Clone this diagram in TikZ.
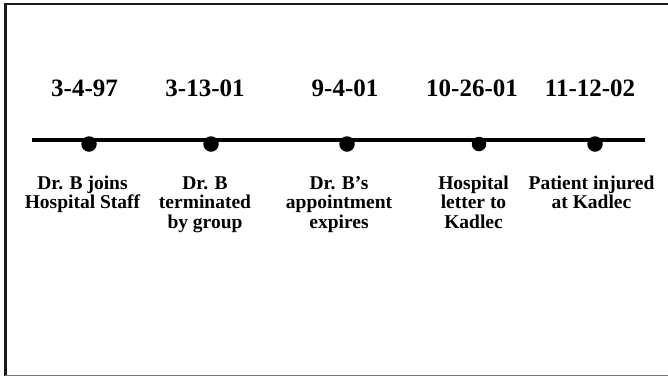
\documentclass[tikz,border=0pt]{standalone}
\usepackage{fontspec}
\setmainfont{Liberation Serif}
\begin{document}
\begin{tikzpicture}[x=1pt,y=-1pt,
  datelbl/.style={anchor=base,inner sep=0pt,font=\fontsize{25}{30}\selectfont\bfseries},
  evlbl/.style={anchor=base,inner sep=0pt,align=center,font=\fontsize{19.5}{19.7}\selectfont\bfseries},
  evdot/.style={circle,fill=black,inner sep=0pt,minimum size=15.5pt}]
\useasboundingbox (0,0) rectangle (668,376);
% frame
\draw[line width=2.4pt,black!90] (5.3,376) -- (5.3,3.8) -- (668,3.8);
\draw[line width=1.3pt,black!55] (5.3,375.3) -- (668,375.3);
% timeline
\coordinate (ls) at (32,140);
\coordinate (le) at (645,140);
\draw[line width=3.6pt] (ls) -- (le);
% dots
\node[evdot] (p1) at (89,144) {};
\node[evdot] (p2) at (211,144) {};
\node[evdot] (p3) at (347,144) {};
\node[evdot,minimum size=14.5pt] (p4) at (479,144) {};
\node[evdot] (p5) at (595,144) {};
% dates
\node[datelbl] (d1) at (84.5,96) {3-4-97};
\node[datelbl] (d2) at (205,96) {3-13-01};
\node[datelbl] (d3) at (345,96) {9-4-01};
\node[datelbl] (d4) at (472,96) {10-26-01};
\node[datelbl] (d5) at (590,96) {11-12-02};
% labels (anchored at the baseline of their last line)
\node[evlbl] (l1) at (82.5,208.7) {Dr. B joins\\Hospital Staff};
\node[evlbl] (l2) at (205,228.4) {Dr. B\\terminated\\by group};
\node[evlbl] (l3) at (339,228.4) {Dr. B’s\\appointment\\expires};
\node[evlbl] (l4) at (473.5,228.4) {Hospital\\letter to\\Kadlec};
\node[evlbl] (l5) at (591.5,208.7) {Patient injured\\at Kadlec};
\end{tikzpicture}
\end{document}
